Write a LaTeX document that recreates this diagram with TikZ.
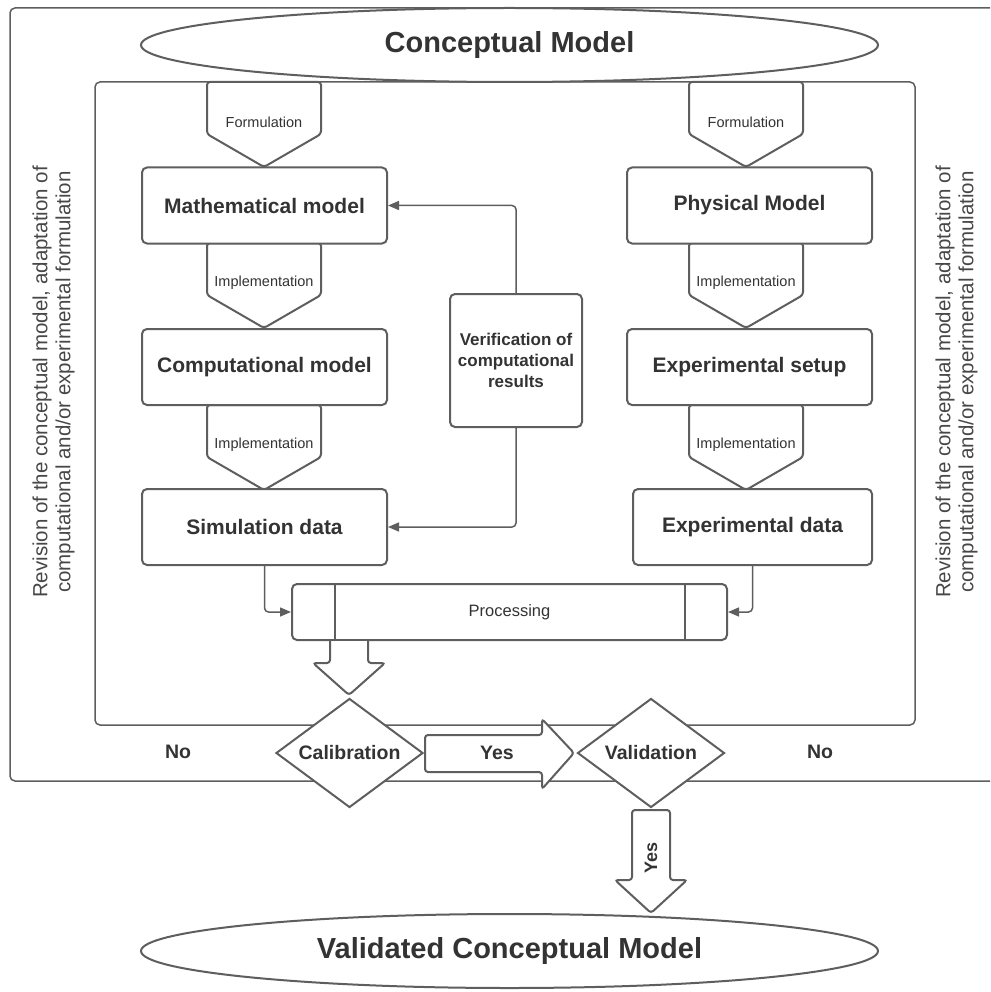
\documentclass[tikz,border=0pt]{standalone}
\usepackage{fontspec}
\setmainfont{Liberation Sans}
\usetikzlibrary{arrows.meta,shapes.geometric}
\definecolor{edge}{HTML}{5E5E5E}
\definecolor{ink}{HTML}{333333}
\newcommand{\fsz}[1]{\fontsize{#1}{1.2\dimexpr#1pt\relax}\selectfont}
\begin{document}
\begin{tikzpicture}[x=1pt, y=-1pt, every node/.style={text=ink},
    box/.style={draw=edge, line width=2pt, fill=white, rounded corners=5pt, minimum width=245pt,
      minimum height=76pt, inner sep=0pt, font=\fsz{21}\bfseries},
    oval/.style={ellipse, draw=edge, line width=2pt, fill=white, minimum width=737pt,
      minimum height=74pt, inner sep=0pt, font=\fsz{29}\bfseries},
    decision/.style={diamond, draw=edge, line width=2pt, fill=white, aspect=1.35,
      minimum width=147pt, minimum height=109pt, inner sep=0pt, font=\fsz{19.5}\bfseries},
    blk/.style={draw=edge, line width=2pt, fill=white, rounded corners=3pt},
    frame/.style={draw=edge, line width=1.5pt, rounded corners=5pt},
    conn/.style={draw=edge, line width=1.5pt, rounded corners=4pt, -{Triangle[length=11pt,width=9pt]}},
    small/.style={font=\fsz{14.5}},
    word/.style={font=\fsz{19.5}\bfseries},
    side/.style={rotate=90, align=center, font=\fontsize{20.5}{23}\selectfont, text=ink!90}]
  \useasboundingbox (0,0) rectangle (990,992);
  % frames
  \draw[frame] (990,8) -- (10,8) -- (10,781) -- (990,781);
  \draw[frame] (95,82) rectangle (915,725);
  \node[oval] (cm) at (509.5,45) {Conceptual Model};
  \node[side] (revl) at (53.5,382) {Revision of the conceptual model, adaptation of\\computational and/or experimental formulation};
  \node[side] (revr) at (956.5,382) {Revision of the conceptual model, adaptation of\\computational and/or experimental formulation};
  % formulation / implementation arrows
  \foreach \nm/\cx/\yt/\txt in {fl/264/82/Formulation, fr/746/82/Formulation,
      il/264/243/Implementation, ir/746/243/Implementation,
      jl/264/405/Implementation, jr/746/405/Implementation} {
    \draw[blk] (\cx-57,\yt) -- (\cx+57,\yt) -- (\cx+57,\yt+52) -- (\cx,\yt+85)
      -- (\cx-57,\yt+52) -- cycle;
    \node[small] (\nm) at (\cx,\yt+40) {\txt};
  }
  % model boxes
  \node[box] (math) at (264.5,205.5) {Mathematical model};
  \node[box] (comp) at (264.5,367) {Computational model};
  \node[box] (sim) at (264.5,527) {Simulation data};
  \node[box] (phys) at (749.5,205.5) {Physical Model};
  \node[box] (exps) at (749.5,367) {Experimental setup};
  \node[box, minimum width=239pt] (expd) at (752.5,527) {Experimental data};
  \node[box, minimum width=132pt, minimum height=133pt, align=center,
    font=\fontsize{17}{21}\selectfont\bfseries] (verif) at (516,360.5)
    {Verification of\\computational\\results};
  \draw[conn] (verif.north) |- (math.east);
  \draw[conn] (verif.south) |- (sim.east);
  % processing
  \node[box, minimum width=435pt, minimum height=56pt, font=\fsz{16.5}] (proc) at (509.5,612) {Processing};
  \draw[draw=edge, line width=2pt] ([xshift=44pt]proc.north west) -- ([xshift=44pt]proc.south west);
  \draw[draw=edge, line width=2pt] ([xshift=-43pt]proc.north east) -- ([xshift=-43pt]proc.south east);
  \draw[conn] (sim.south) |- (proc.west);
  \draw[conn] (expd.south) |- (proc.east);
  \draw[blk] (330,641) -- (330,663) -- (313,663) -- (349,695) -- (385,663) -- (368,663) -- (368,641);
  % decisions
  \node[decision] (cal) at (349.5,753) {Calibration};
  \node[decision] (val) at (651,753) {Validation};
  \draw[blk] (425,735) -- (542,735) -- (542,719) -- (574,753) -- (542,789) -- (542,772)
    -- (425,772) -- cycle;
  \node[word] (yes1) at (497,753) {Yes};
  \draw[blk] (632,810) -- (670,810) -- (670,880) -- (687,880) -- (651,913) -- (615,880)
    -- (632,880) -- cycle;
  \node[word, rotate=90, font=\fsz{18}\bfseries] (yes2) at (651,858) {Yes};
  \node[word] (nol) at (178,752) {No};
  \node[word] (nor) at (820,752) {No};
  \node[oval] (vcm) at (509.5,951) {Validated Conceptual Model};
\end{tikzpicture}
\end{document}
